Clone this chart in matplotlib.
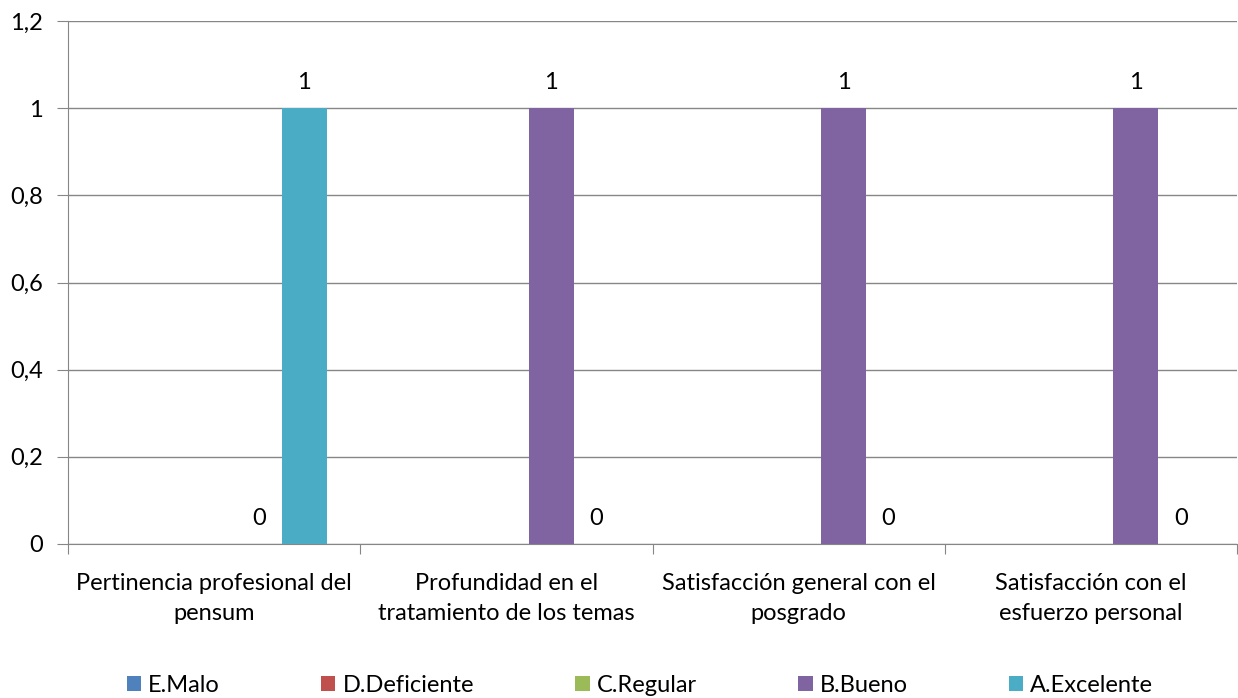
import matplotlib.pyplot as plt
import numpy as np

categorias = ["Pertinencia profesional del\npensum",
              "Profundidad en el\ntratamiento de los temas",
              "Satisfacción general con el\nposgrado",
              "Satisfacción con el\nesfuerzo personal"]
series = ["E.Malo", "D.Deficiente", "C.Regular", "B.Bueno", "A.Excelente"]
colores = ["#4F81BD", "#C0504D", "#9BBB59", "#8064A2", "#4BACC6"]
e_malo = [np.nan, np.nan, np.nan, np.nan]
d_deficiente = [np.nan, np.nan, np.nan, np.nan]
c_regular = [np.nan, np.nan, np.nan, np.nan]
b_bueno = [0, 1, 1, 1]
a_excelente = [1, 0, 0, 0]
valores = [e_malo, d_deficiente, c_regular, b_bueno, a_excelente]

plt.rcParams['font.family'] = ['Lato', 'DejaVu Sans']
fs = 17

fig = plt.figure(figsize=(12.38, 6.98), dpi=100)
ax = fig.add_axes([68/1238, 1-544/698, (1237-68)/1238, (544-21)/698])

x = np.arange(len(categorias))
w = 1/6.5
for i, (nombre, vals, c) in enumerate(zip(series, valores, colores)):
    pos = x + (i-2)*w
    ax.bar(pos, vals, w, color=c, label=nombre, zorder=3)
    for p, v in zip(pos, vals):
        if not np.isnan(v):
            ax.text(p, v + 0.035, str(int(v)), ha='center', va='bottom', fontsize=fs)

ax.set_xlim(-0.5, len(categorias)-0.5)
ax.set_ylim(0, 1.2)
ax.set_yticks(np.arange(0, 1.21, 0.2))
ax.set_yticklabels(["0", "0,2", "0,4", "0,6", "0,8", "1", "1,2"], fontsize=fs)
ax.set_xticks(np.arange(-0.5, len(categorias), 1))
ax.set_xticklabels([])
ax.set_xticks(x, minor=True)
ax.set_xticklabels(categorias, minor=True, fontsize=fs, linespacing=1.5)
ax.tick_params(axis='x', which='minor', length=0, pad=21)
ax.tick_params(axis='x', which='major', length=7, color='#868686')
ax.tick_params(axis='y', length=8, color='#868686', pad=10)
ax.grid(axis='y', color='#868686', linewidth=1, zorder=0)
for s in ['top', 'right']:
    ax.spines[s].set_visible(False)
for s in ['left', 'bottom']:
    ax.spines[s].set_color('#868686')

fig.legend(loc='lower center', bbox_to_anchor=(0.517, -0.028), ncol=5, frameon=False,
           fontsize=fs, handlelength=0.6, handleheight=0.6, handletextpad=0.3,
           columnspacing=4.3)

fig.savefig("out.png", dpi=100)
